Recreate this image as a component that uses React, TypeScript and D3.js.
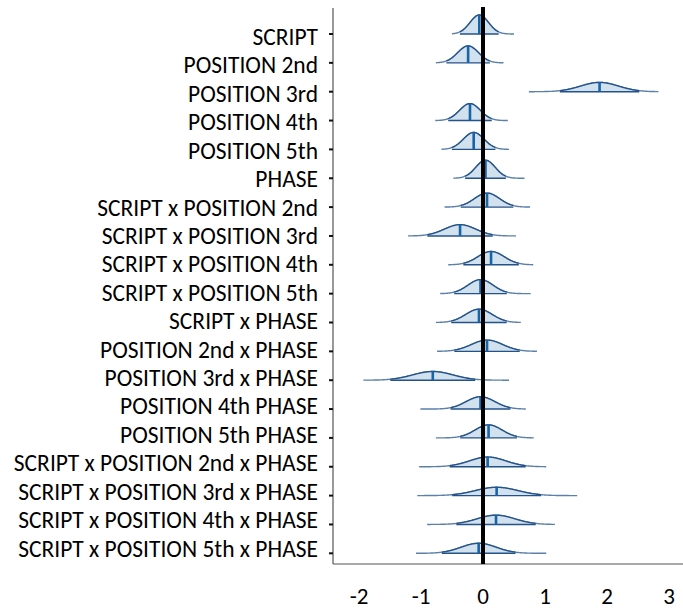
import React from "react";
import * as d3 from "d3";

const labels = [
  "SCRIPT",
  "POSITION 2nd",
  "POSITION 3rd",
  "POSITION 4th",
  "POSITION 5th",
  "PHASE",
  "SCRIPT x POSITION 2nd",
  "SCRIPT x POSITION 3rd",
  "SCRIPT x POSITION 4th",
  "SCRIPT x POSITION 5th",
  "SCRIPT x PHASE",
  "POSITION 2nd x PHASE",
  "POSITION 3rd x PHASE",
  "POSITION 4th PHASE",
  "POSITION 5th PHASE",
  "SCRIPT x POSITION 2nd x PHASE",
  "SCRIPT x POSITION 3rd x PHASE",
  "SCRIPT x POSITION 4th x PHASE",
  "SCRIPT x POSITION 5th x PHASE",
];
const medians = [-0.06, -0.24, 1.88, -0.21, -0.15, 0.04, 0.065, -0.37, 0.13, -0.04, -0.065, 0.065, -0.81, -0.04, 0.09, 0.075, 0.22, 0.21, -0.07];
const sds = [0.149, 0.167, 0.305, 0.167, 0.167, 0.157, 0.202, 0.251, 0.213, 0.202, 0.213, 0.251, 0.326, 0.23, 0.218, 0.292, 0.341, 0.305, 0.283];
const lows = [-0.5, -0.76, 0.74, -0.77, -0.67, -0.48, -0.62, -1.21, -0.56, -0.69, -0.76, -0.74, -1.93, -1.01, -0.76, -1.03, -1.06, -0.9, -1.08];
const highs = [0.5, 0.33, 2.83, 0.4, 0.42, 0.67, 0.76, 0.53, 0.81, 0.77, 0.61, 0.87, 0.42, 0.69, 0.82, 1.02, 1.52, 1.16, 1.02];
const xTicks = [-2, -1, 0, 1, 2, 3];

const W = 683;
const H = 612;
const axisX = 333;
const topY = 8;
const bottomY = 564;
const FONT = "Carlito, Calibri, 'Open Sans', sans-serif";

export default function App() {
  const x = d3.scaleLinear().domain([0, 1]).range([483, 545]);
  const y = d3
    .scalePoint<string>()
    .domain(labels)
    .range([34, 553.3]);
  const yLab = d3
    .scalePoint<string>()
    .domain(labels)
    .range([45, 556.5]);
  const pdf = (v: number, m: number, s: number) =>
    Math.exp(-0.5 * ((v - m) / s) ** 2) / (s * Math.sqrt(2 * Math.PI));
  const maxDens = d3.max(sds.map((s) => 1 / (s * Math.sqrt(2 * Math.PI)))) as number;
  const h = d3.scaleLinear().domain([0, maxDens]).range([0, 19]);

  const ridges = labels.map((lab, i) => {
    const m = medians[i];
    const s = sds[i];
    const base = y(lab) as number;
    const n = 120;
    const full = d3.range(n + 1).map((k) => lows[i] + ((highs[i] - lows[i]) * k) / n);
    const inLo = Math.max(lows[i], m - 2.1 * s);
    const inHi = Math.min(highs[i], m + 2.1 * s);
    const inner = d3.range(n + 1).map((k) => inLo + ((inHi - inLo) * k) / n);
    const line = d3
      .line<number>()
      .x((v) => x(v))
      .y((v) => base - h(pdf(v, m, s)))
      .curve(d3.curveBasis);
    const area = d3
      .area<number>()
      .x((v) => x(v))
      .y0(base)
      .y1((v) => base - h(pdf(v, m, s)))
      .curve(d3.curveBasis);
    return { lab, base, m, s, full, inner, line, area };
  });

  return (
    <div style={{ position: "absolute", left: 0, top: 0 }}>
      <svg width={W} height={H} style={{ display: "block", background: "#fff" }}>
        <line x1={axisX} x2={axisX} y1={topY} y2={bottomY} stroke="#555" strokeWidth={1.2} />
        <line x1={axisX} x2={W} y1={bottomY} y2={bottomY} stroke="#555" strokeWidth={1.2} />
        {ridges.map((r) => (
          <g key={r.lab}>
            <line x1={axisX - 4} x2={axisX} y1={r.base} y2={r.base} stroke="#111" strokeWidth={2} />
            <text
              x={318}
              y={yLab(r.lab) as number}
              textAnchor="end"
              fontFamily={FONT}
              fontSize={23.5}
              fill="#000"
            >
              {r.lab}
            </text>
          </g>
        ))}
        {ridges.map((r) => (
          <g key={r.lab + "r"}>
            <path d={r.line(r.full) as string} fill="none" stroke="#5b80aa" strokeWidth={1.4} />
            <path d={r.area(r.inner) as string} fill="#d1e1ed" stroke="none" />
            <path d={r.line(r.inner) as string} fill="none" stroke="#24528a" strokeWidth={1.4} />
            <line
              x1={x(r.inner[0])}
              x2={x(r.inner[r.inner.length - 1])}
              y1={r.base}
              y2={r.base}
              stroke="#24528a"
              strokeWidth={1.4}
            />
            <line
              x1={x(r.m)}
              x2={x(r.m)}
              y1={r.base}
              y2={r.base - h(pdf(r.m, r.m, r.s))}
              stroke="#1764a6"
              strokeWidth={2.6}
            />
          </g>
        ))}
        <line x1={x(0)} x2={x(0)} y1={topY - 1} y2={bottomY} stroke="#000" strokeWidth={4} />
        {xTicks.map((t) => (
          <text
            key={t}
            x={x(t)}
            y={604}
            textAnchor="middle"
            fontFamily={FONT}
            fontSize={23}
            fill="#000"
          >
            {t}
          </text>
        ))}
      </svg>
    </div>
  );
}
